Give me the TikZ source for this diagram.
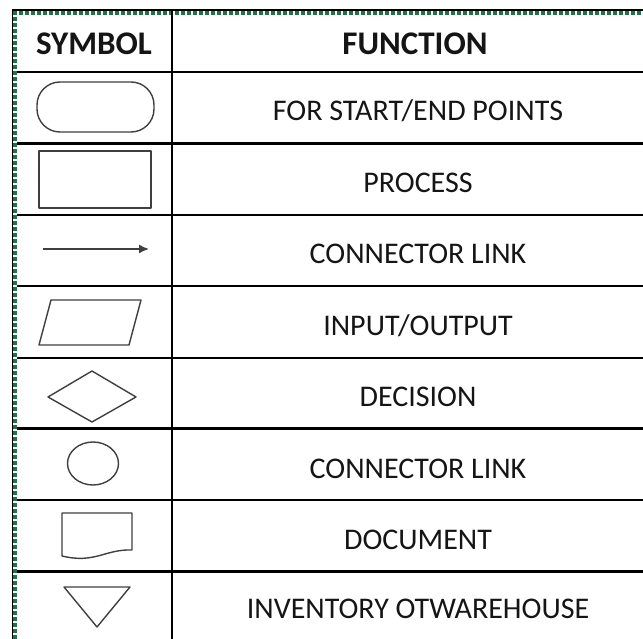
\documentclass[tikz,border=0pt]{standalone}
\usepackage{fontspec}
\setmainfont{Carlito}
\usetikzlibrary{arrows.meta}
\definecolor{gridgreen}{HTML}{217346}
\definecolor{shapegray}{HTML}{3F3F3F}
\definecolor{inktext}{HTML}{151515}
\tikzset{
  grid/.style={line width=2.2pt, black},
  symbolshape/.style={draw=shapegray, line width=1.4pt, line join=round},
  headtext/.style={anchor=base, text=inktext, font=\fontsize{33}{40}\selectfont\bfseries, inner sep=0pt},
  functext/.style={anchor=base, text=inktext, font=\fontsize{30}{36}\selectfont, inner sep=0pt},
  greenframe/.style={gridgreen, line width=3.2pt, dash pattern=on 4pt off 2pt},
}
\begin{document}
\begin{tikzpicture}[x=1pt, y=-1pt]
\useasboundingbox (0,0) rectangle (643,639);
\fill[white] (0,0) rectangle (643,639);

% outer frame: thin black edge with the green dashed band inside
\draw[greenframe] (15,639) -- (15,13) -- (643,13);
\draw[black, line width=1.6pt] (12.5,639) -- (12.5,9.8) -- (643,9.8);

% table rules
\foreach \yy in {72,143.5,215,286,358,428.5,500,571.5}
  \draw[grid] (16.5,\yy) -- (643,\yy);
\draw[grid] (172,10) -- (172,639);

% header
\node[headtext] (hsym) at (94,54.5) {SYMBOL};
\node[headtext] (hfun) at (415,54.5) {FUNCTION};

% symbol column
\draw[symbolshape, rounded corners=23pt] (37,82) rectangle (154,132);
\draw[symbolshape] (39,151) rectangle (151,208);
\coordinate (arrS) at (43,249);
\coordinate (arrE) at (149,249);
\draw[shapegray, line width=1.5pt, -{Latex[length=10pt,width=9pt]}] (arrS) -- (arrE);
\draw[symbolshape] (51,300) -- (141,300) -- (129,345) -- (39,345) -- cycle;
\draw[symbolshape] (48,397) -- (92,371) -- (136,397) -- (92,422) -- cycle;
\draw[symbolshape] (93,463.5) ellipse [x radius=25.5, y radius=21.5];
\draw[symbolshape] (62,556) -- (62,513) -- (132,513) -- (132,550)
  .. controls (105,549) and (95,564) .. (62,556) -- cycle;
\draw[symbolshape] (64,587) -- (130,587) -- (97,627) -- cycle;

% function column
\node[functext] (f1) at (418,121) {FOR START/END POINTS};
\node[functext] (f2) at (418,192.5) {PROCESS};
\node[functext] (f3) at (418,264) {CONNECTOR LINK};
\node[functext] (f4) at (418,335.5) {INPUT/OUTPUT};
\node[functext] (f5) at (418,406.5) {DECISION};
\node[functext] (f6) at (418,478) {CONNECTOR LINK};
\node[functext] (f7) at (418,549.5) {DOCUMENT};
\node[functext] (f8) at (418,618) {INVENTORY OTWAREHOUSE};
\end{tikzpicture}
\end{document}
